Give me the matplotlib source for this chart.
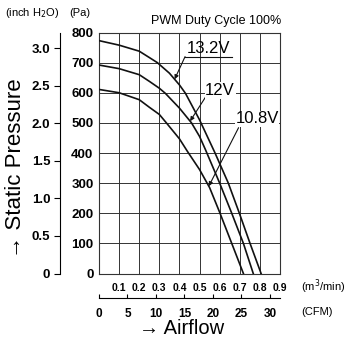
import matplotlib
matplotlib.use('Agg')
import matplotlib.pyplot as plt
import numpy as np

# fan curves: airflow (m3/min) -> static pressure (Pa)
flow_132 = [0, 0.1, 0.2, 0.25, 0.29, 0.35, 0.4, 0.43, 0.5, 0.577, 0.643, 0.698, 0.751, 0.806]
pa_132 = [773, 758, 738, 717, 700, 665, 626, 598, 510, 400, 300, 200, 100, 0]

flow_12 = [0, 0.1, 0.2, 0.25, 0.3, 0.33, 0.4, 0.46, 0.5, 0.53, 0.6, 0.66, 0.718, 0.767]
pa_12 = [692, 680, 660, 638, 615, 598, 549, 500, 455, 410, 300, 200, 100, 0]

flow_108 = [0, 0.1, 0.2, 0.25, 0.3, 0.335, 0.4, 0.44, 0.5, 0.55, 0.6, 0.66, 0.718]
pa_108 = [611, 600, 577, 552, 528, 500, 447, 405, 345, 285, 203, 100, 0]

pa_ticks = [0, 100, 200, 300, 400, 500, 600, 700, 800]
flow_ticks = [0.1, 0.2, 0.3, 0.4, 0.5, 0.6, 0.7, 0.8, 0.9]
inch_ticks = [0, 0.5, 1.0, 1.5, 2.0, 2.5, 3.0]
cfm_ticks = [0, 5, 10, 15, 20, 25, 30]

PA_PER_INCH = 249.089
M3_PER_CFM = 0.0283168

num_font = ['Liberation Sans', 'DejaVu Sans']
txt_font = ['Liberation Sans', 'DejaVu Sans']

W, H = 352, 343
fig = plt.figure(figsize=(W / 100, H / 100), dpi=100)
ax = fig.add_axes([99 / W, 1 - 273.5 / H, 181 / W, 241 / H])

ax.set_xlim(0, 0.9)
ax.set_ylim(0, 800)
ax.set_xticks(flow_ticks)
ax.set_yticks(pa_ticks)
ax.set_xticklabels(['%.1f' % v for v in flow_ticks])
ax.grid(True, color='#333333', lw=0.7)
ax.set_axisbelow(True)
for s in ax.spines.values():
    s.set_color('#333333')
    s.set_linewidth(0.8)
ax.tick_params(axis='both', length=0)
ax.tick_params(axis='y', pad=4)
ax.tick_params(axis='x', pad=7)
for lab in ax.get_xticklabels():
    lab.set_fontfamily(num_font)
    lab.set_fontweight('bold')
    lab.set_fontsize(7.5)
for lab in ax.get_yticklabels():
    lab.set_fontfamily(num_font)
    lab.set_fontweight('bold')
    lab.set_fontsize(9.5)

for f, p in [(flow_132, pa_132), (flow_12, pa_12), (flow_108, pa_108)]:
    ax.plot(f, p, color='#111111', lw=1.2, zorder=3)

# inch H2O axis on the left
sec_y = ax.secondary_yaxis((60 - 99) / 181, functions=(lambda p: p / PA_PER_INCH,
                                                       lambda i: i * PA_PER_INCH))
sec_y.set_yticks(inch_ticks)
sec_y.set_yticklabels(['0' if v == 0 else '%.1f' % v for v in inch_ticks])
sec_y.spines['left'].set_linewidth(0.8)
sec_y.tick_params(length=4, width=0.8, pad=3, direction='out')
for lab in sec_y.get_yticklabels():
    lab.set_fontfamily(num_font)
    lab.set_fontweight('bold')
    lab.set_fontsize(9.5)

# CFM axis below
sec_x = ax.secondary_xaxis((273.5 - 298) / 241, functions=(lambda m: m / M3_PER_CFM,
                                                           lambda c: c * M3_PER_CFM))
sec_x.set_xticks(cfm_ticks)
sec_x.spines['bottom'].set_linewidth(0.8)
sec_x.tick_params(length=3, width=0.8, pad=7, direction='in')
for lab in sec_x.get_xticklabels():
    lab.set_fontfamily(num_font)
    lab.set_fontweight('bold')
    lab.set_fontsize(8.5)

# curve labels with leader arrows
arrow = dict(arrowstyle='-|>', lw=0.8, color='#111111', mutation_scale=6,
             shrinkA=0, shrinkB=0)

tip = 0.376
ax.annotate('', xy=(tip, np.interp(tip, flow_132, pa_132)), xytext=(0.428, 720),
            arrowprops=arrow, zorder=4)
ax.plot([0.428, 0.662], [720, 720], color='#111111', lw=0.8, zorder=4)
ax.text(0.545, 722, '13.2V', ha='center', va='bottom', fontsize=12,
        family=txt_font, zorder=5)

tip = 0.453
ax.annotate('', xy=(tip, np.interp(tip, flow_12, pa_12)), xytext=(0.532, 588),
            arrowprops=arrow, zorder=4)
ax.text(0.602, 607, '12V', ha='center', va='center', fontsize=12, family=txt_font,
        zorder=5, bbox=dict(fc='white', ec='none', pad=0.5))

tip = 0.546
ax.annotate('', xy=(tip, np.interp(tip, flow_108, pa_108)), xytext=(0.694, 484),
            arrowprops=arrow, zorder=4)
ax.text(0.786, 513, '10.8V', ha='center', va='center', fontsize=12, family=txt_font,
        zorder=5, bbox=dict(fc='white', ec='none', pad=0.5))

# titles and units
fig.text(216 / W, 1 - 21 / H, 'PWM Duty Cycle 100%', ha='center', va='center',
         fontsize=9, family=txt_font)
fig.text(5 / W, 1 - 13 / H, '(inch H$_2$O)', ha='left', va='center', fontsize=8,
         family=txt_font)
fig.text(69 / W, 1 - 13 / H, '(Pa)', ha='left', va='center', fontsize=8,
         family=txt_font)
fig.text(301 / W, 1 - 287 / H, '(m$^3$/min)', ha='left', va='center', fontsize=8,
         family=txt_font)
fig.text(301 / W, 1 - 312 / H, '(CFM)', ha='left', va='center', fontsize=8,
         family=txt_font)
fig.text(16 / W, 1 - 168 / H, '→ Static Pressure', rotation=90, ha='center',
         va='center', fontsize=16, family=txt_font)
fig.text(182 / W, 1 - 328 / H, '→ Airflow', ha='center', va='center',
         fontsize=14.5, family=txt_font)

fig.savefig('out.png', dpi=100)
